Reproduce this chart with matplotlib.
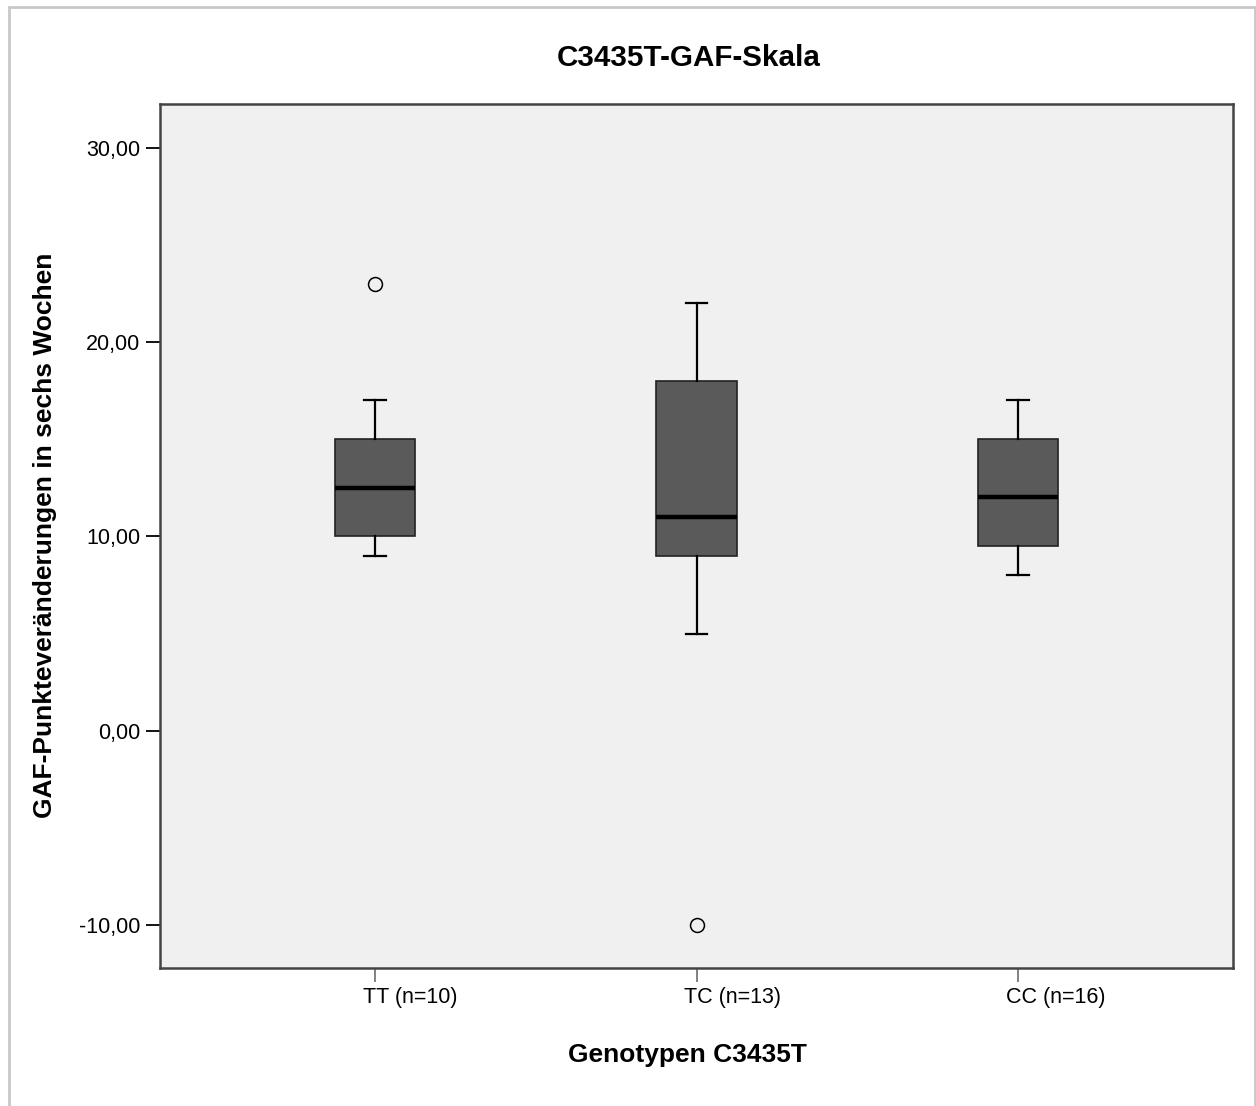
import matplotlib
matplotlib.use("Agg")
import matplotlib.pyplot as plt
import matplotlib.transforms as mtransforms
from matplotlib.patches import Rectangle

categories = ["TT (n=10)", "TC (n=13)", "CC (n=16)"]
whisker_low = [9, 5, 8]
q1 = [10, 9, 9.5]
median = [12.5, 11, 12]
q3 = [15, 18, 15]
whisker_high = [17, 22, 17]
outliers = [[23], [-10], []]
yticks = [-10, 0, 10, 20, 30]
ytick_labels = ["-10,00", "0,00", "10,00", "20,00", "30,00"]

plt.rcParams['font.family'] = ['Liberation Sans', 'DejaVu Sans']

W, H = 1256, 1106
fig = plt.figure(figsize=(W / 100, H / 100), dpi=100)
fig.patch.set_facecolor('white')

# outer frame
fig.patches.append(Rectangle((9 / W, -0.05), (1255 - 9) / W, 1 - 7 / H + 0.05,
                             transform=fig.transFigure, fill=False,
                             edgecolor='#c8c8c8', linewidth=2))

left, right, top, bottom = 160, 1233, 103.5, 968
ax = fig.add_axes([left / W, 1 - bottom / H, (right - left) / W, (bottom - top) / H])
ax.set_facecolor('#f0f0f0')

stats = []
for i, c in enumerate(categories):
    stats.append(dict(label=c, whislo=whisker_low[i], q1=q1[i], med=median[i],
                      q3=q3[i], whishi=whisker_high[i], fliers=outliers[i]))

ax.bxp(stats, positions=[1, 2, 3], widths=0.251, patch_artist=True,
       boxprops=dict(facecolor='#5a5a5a', edgecolor='#222222', linewidth=1.2),
       medianprops=dict(color='black', linewidth=3.2, solid_capstyle='butt'),
       whiskerprops=dict(color='black', linewidth=1.6),
       capprops=dict(color='black', linewidth=1.6),
       capwidths=0.066,
       flierprops=dict(marker='o', markersize=10, markerfacecolor='none',
                       markeredgecolor='black', markeredgewidth=1.1))

ax.set_xlim(0.331, 3.669)
ax.set_ylim(-12.21, 32.27)
ax.set_yticks(yticks)
ax.set_yticklabels(ytick_labels)
ax.set_xticks([1, 2, 3])
ax.set_xticklabels(categories)

for s in ax.spines.values():
    s.set_color('#444444')
    s.set_linewidth(1.8)

ax.tick_params(axis='y', length=10, width=1.3, color='black', labelsize=15.5, pad=4)
ax.tick_params(axis='x', length=10, width=1.3, color='#777777', labelsize=15.5, pad=4)

offset = mtransforms.ScaledTranslation(-12 / 100, 0, fig.dpi_scale_trans)
for lbl in ax.get_xticklabels():
    lbl.set_horizontalalignment('left')
    lbl.set_transform(lbl.get_transform() + offset)

fig.text(689 / W, 1 - 58.5 / H, "C3435T-GAF-Skala", ha='center', va='center',
         fontsize=21.3, fontweight='bold')
fig.text(687 / W, 1 - 1055 / H, "Genotypen C3435T", ha='center', va='center',
         fontsize=19, fontweight='bold')
fig.text(45 / W, 1 - 535 / H, "GAF-Punkteveränderungen in sechs Wochen", ha='center',
         va='center', rotation=90, fontsize=19, fontweight='bold')

fig.savefig("out.png", dpi=100)
